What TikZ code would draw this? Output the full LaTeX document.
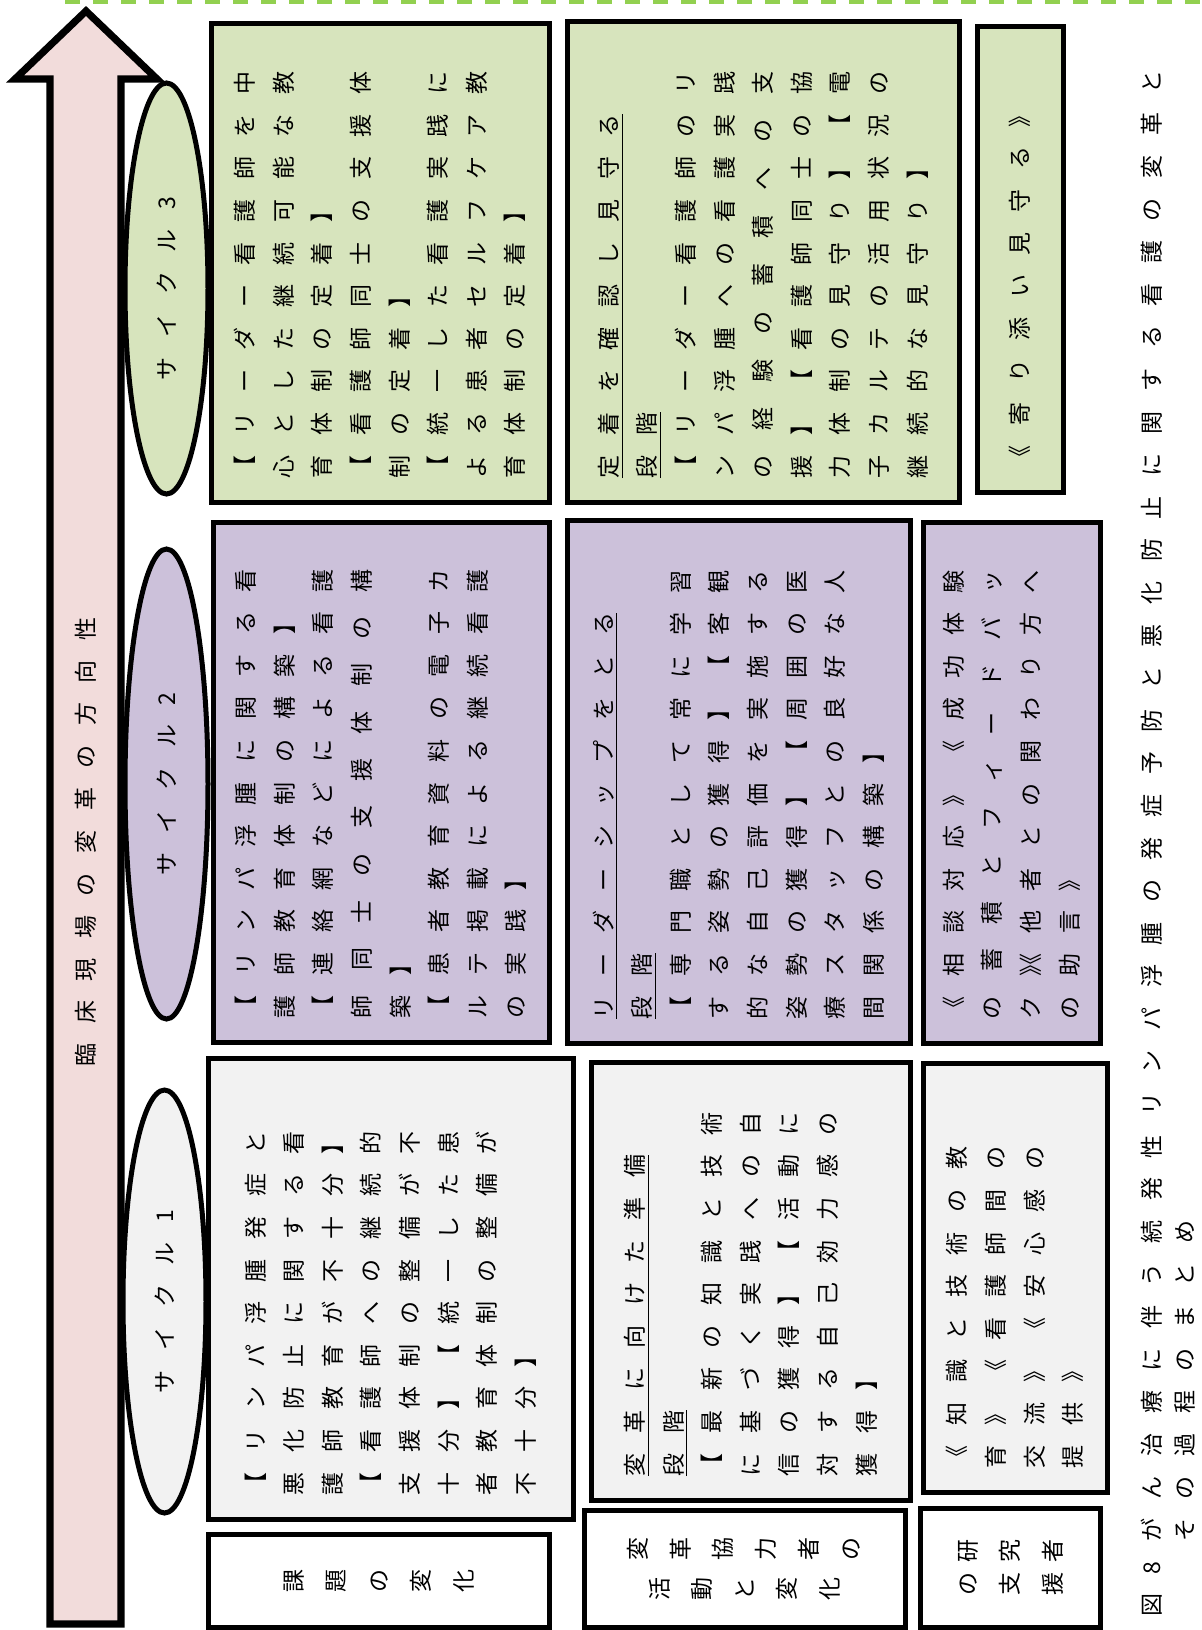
\documentclass[tikz,border=0pt]{standalone}
\usepackage{fontspec}
\usepackage{graphicx}
\usetikzlibrary{shapes.geometric}
\newfontfamily\jp{Noto Sans CJK JP}
\definecolor{cycgreen}{HTML}{D7E4BD}
\definecolor{cycpurple}{HTML}{CCC1DA}
\definecolor{cycgray}{HTML}{F2F2F2}
\definecolor{arrowpink}{HTML}{F2DCDB}
\definecolor{dashgreen}{HTML}{92D050}
\newlength\pitch \setlength\pitch{21.3pt}
\newlength\cjkem \setlength\cjkem{11.5pt}
\newlength\chgap \setlength\chgap{9.8pt}
% characters one by one, \chsep between them
\def\chsEnd{}
\def\chsEndM{\chsEnd}
\def\chsep{}
\def\chfmt#1{#1}
\def\chs#1{\chsA#1\chsEnd}
\def\chsA#1{\def\chsT{#1}\ifx\chsT\chsEndM\else\chfmt{#1}\expandafter\chsB\fi}
\def\chsB#1{\def\chsT{#1}\ifx\chsT\chsEndM\else\chsep\chfmt{#1}\expandafter\chsB\fi}
\newcommand\jline[2]{\leavevmode\hbox to \dimexpr#1\pitch-\pitch+\cjkem\relax{\def\chsep{\hfill}\chs{#2}}}
\newcommand\sline[1]{\leavevmode\hbox{\def\chsep{\kern\chgap}\chs{#1}}}
\newcommand\tline[1]{\leavevmode\hbox{\def\chsep{\kern\chgap}\def\chfmt##1{\rotatebox[origin=c]{90}{\raisebox{0pt}[.88\cjkem][.12\cjkem]{##1}}}\chs{#1}}}
\begin{document}
\begin{tikzpicture}[x=0.5pt, y=-0.5pt, font=\jp\fontsize{11.5}{19.3}\selectfont, line join=miter,
  box/.style={draw, line width=2.5pt, rotate=90, inner xsep=12pt, inner ysep=0pt, align=left},
  gbox/.style={box, fill=cycgreen},
  pbox/.style={box, fill=cycpurple},
  wbox/.style={box, fill=cycgray},
  cyc/.style={draw, ellipse, line width=2.5pt, rotate=90, inner sep=0pt, minimum height=41.5pt},
  lbox/.style={draw, line width=2.5pt, fill=white, align=center, inner sep=0pt}]
\useasboundingbox (0,0) rectangle (1202,1630);
\draw[dashgreen, line width=3pt, dash pattern=on 7.5pt off 6.5pt] (65,1) -- (1202,1);
\draw[line width=3.6pt, fill=arrowpink] (86,11) -- (157,79) -- (121,79) -- (121,1624) -- (50,1624) -- (50,79) -- (15,79) -- cycle;
\node[rotate=90] (dir) at (86,842) {\sline{臨床現場の変革の方向性}};

\node[cyc, fill=cycgreen, minimum width=205.5pt] (cyc3) at (166.5,288.5) {\sline{サイクル3}};
\node[cyc, fill=cycpurple, minimum width=235pt] (cyc2) at (166.5,784) {\sline{サイクル2}};
\node[cyc, fill=cycgray, minimum width=211.5pt] (cyc1) at (164.5,1301.5) {\sline{サイクル1}};

\node[gbox, minimum width=239.5pt, minimum height=169pt, text width=215.5pt] (c3task) at (380,262.5) {%
\jline{10}{【リーダー看護師を中}\\
\jline{10}{心とした継続可能な教}\\
\sline{育体制の定着】}\\
\jline{10}{【看護師同士の支援体}\\
\sline{制の定着】}\\
\jline{10}{【統一した看護実践に}\\
\jline{10}{よる患者セルフケア教}\\
\sline{育体制の定着】}};
\node[gbox, minimum width=240.5pt, minimum height=196pt, text width=216.5pt] (c3step) at (763,261.5) {%
\underline{\sline{定着を確認し見守る}}\\
\underline{\sline{段階}}\\
\jline{10}{【リーダー看護師のリ}\\
\jline{10}{ンパ浮腫への看護実践}\\
\jline{10}{の経験の蓄積への支}\\
\jline{10}{援】【看護師同士の協}\\
\jline{10}{力体制の見守り】【電}\\
\jline{10}{子カルテの活用状況の}\\
\sline{継続的な見守り】}};
\node[gbox, minimum width=233pt, minimum height=43pt, text width=209pt] (c3help) at (1020,259) {\sline{《寄り添い見守る》}};

\node[pbox, minimum width=260pt, minimum height=168pt, text width=236pt] (c2task) at (381,782) {%
\jline{11}{【リンパ浮腫に関する看}\\
\sline{護師教育体制の構築】}\\
\jline{11}{【連絡網などによる看護}\\
\jline{11}{師同士の支援体制の構}\\
\sline{築】}\\
\jline{11}{【患者教育資料の電子カ}\\
\jline{11}{ルテ掲載による継続看護}\\
\sline{の実践】}};
\node[pbox, minimum width=261.5pt, minimum height=171.5pt, text width=237.5pt] (c2step) at (738.5,781.5) {%
\underline{\sline{リーダーシップをとる}}\\
\underline{\sline{段階}}\\
\jline{11}{【専門職として常に学習}\\
\jline{11}{する姿勢の獲得】【客観}\\
\jline{11}{的な自己評価を実施する}\\
\jline{11}{姿勢の獲得】【周囲の医}\\
\jline{11}{療スタッフとの良好な人}\\
\sline{間関係の構築】}};
\node[pbox, minimum width=260.5pt, minimum height=88.5pt, text width=236.5pt] (c2help) at (1011.5,782.5) {%
\jline{11}{《相談対応》《成功体験}\\
\jline{11}{の蓄積とフィードバッ}\\
\jline{11}{ク{》\kern-\cjkem《}他者との関わり方へ}\\
\sline{の助言》}};

\node[wbox, minimum width=230.5pt, minimum height=182.5pt, text width=206.5pt] (c1task) at (390.5,1288.5) {%
\jline{9}{【リンパ浮腫発症と}\\
\jline{9}{悪化防止に関する看}\\
\jline{9}{護師教育が不十分】}\\
\jline{9}{【看護師への継続的}\\
\jline{9}{支援体制の整備が不}\\
\jline{9}{十分】【統一した患}\\
\jline{9}{者教育体制の整備が}\\
\sline{不十分】}};
\node[wbox, minimum width=219pt, minimum height=159.5pt, text width=195pt] (c1step) at (750.5,1281) {%
\underline{\sline{変革に向けた準備}}\\
\underline{\sline{段階}}\\
\jline{9}{【最新の知識と技術}\\
\jline{9}{に基づく実践への自}\\
\jline{9}{信の獲得】【活動に}\\
\jline{9}{対する自己効力感の}\\
\sline{獲得】}};
\node[wbox, minimum width=214.5pt, minimum height=92pt, text width=190.5pt] (c1help) at (1015,1277.5) {%
\jline{8}{《知識と技術の教}\\
\jline{8}{育》《看護師間の}\\
\jline{8}{交流》《安心感の}\\
\sline{提供》}};

\node[lbox, minimum width=170.5pt, minimum height=46.5pt] (issue) at (378.5,1580.5) {\tline{課題の変化}};
\node[lbox, minimum width=160.5pt, minimum height=58.5pt, font=\jp\fontsize{11.5}{20}\selectfont] (partner) at (744.5,1568.5) {\tline{変革協力者の}\\\tline{活動と変化}};
\node[lbox, minimum width=90pt, minimum height=59.5pt, font=\jp\fontsize{11.5}{16.5}\selectfont] (support) at (1010,1567.5) {\tline{研究者}\\\tline{の支援}};

\node[rotate=90, anchor=base west, inner sep=0pt, text width=790pt, align=left, font=\jp\fontsize{11.5}{16.5}\selectfont] (cap) at (1160,1617) {%
\sline{図8がん治療に伴う続発性リンパ浮腫の発症予防と悪化防止に関する看護の変革と}\\
\hbox{\phantom{\sline{図8}}\kern\chgap\sline{その過程のまとめ}}};
\end{tikzpicture}
\end{document}
